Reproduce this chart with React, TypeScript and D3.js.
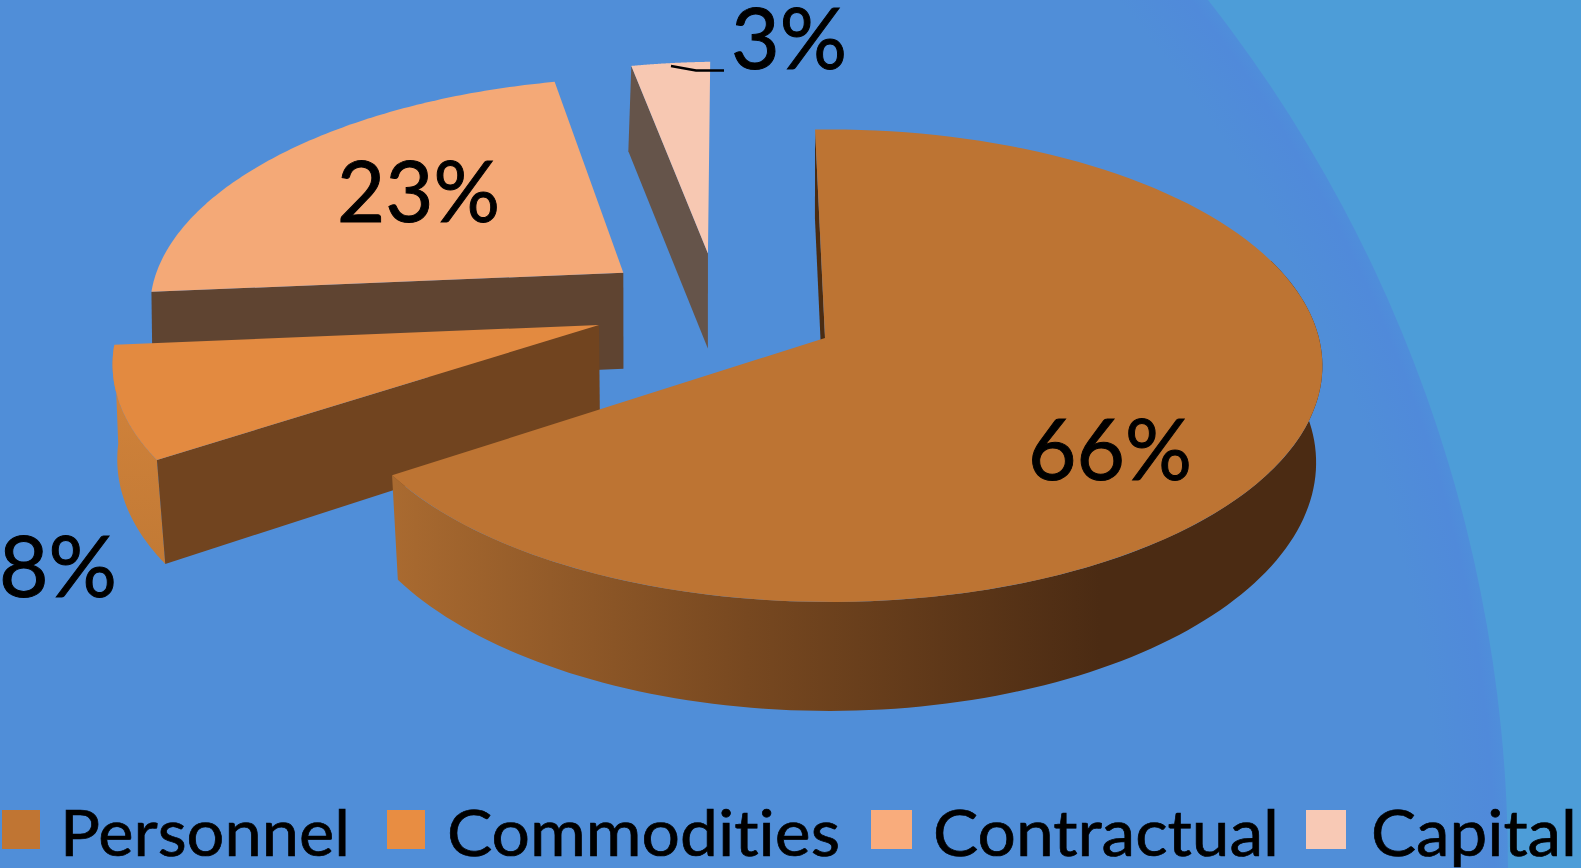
import React from "react";
import * as d3 from "d3";

// Budget shares by category, in percent
const categories = ["Personnel", "Commodities", "Contractual", "Capital"];
const shares = [66, 8, 23, 3];
const topColors = ["#bd7433", "#e38a40", "#f4a977", "#f7c8b2"];
const legendColors = ["#c07533", "#e88d42", "#f9ac7c", "#f8c9b5"];
const cutFaceColors = ["#4b2c12", "#71441f", "#5f4431", "#65544a"];
// How far each wedge is pulled out of the pie, in units of the disc radius
const shiftU = [0, -0.466, -0.427, -0.25];
const shiftV = [0, -0.0566, -0.2905, -0.38];

const WIDTH = 1581;
const HEIGHT = 868;
const FONT = "Lato, Carlito, sans-serif";

// Perspective view of the tilted disc
const centerX = 825;
const centerY = 338;
const radiusX = 490;
const radiusY = 233;
const perspectiveV = 0.1172;
const perspectiveU = 0.008;

const project = (u: number, v: number) => {
  const w = 1 - perspectiveV * v - perspectiveU * u;
  return [centerX + (radiusX * u) / w, centerY + (radiusY * v) / w];
};

// The underside of the disc, slightly narrower towards the viewer
const projectLower = (u: number, v: number) => {
  const [x, y] = project(u, v);
  return [
    centerX + (x - centerX) * (0.995 - 0.015 * v) - Math.max(u, 0) * 3,
    y + 99 + 10 * v,
  ];
};

const DEG = Math.PI / 180;
const pieLayout = d3
  .pie<number>()
  .sort(null)
  .startAngle(-1.3 * DEG)
  .endAngle(358.7 * DEG);
const wedges = pieLayout(shares);

const linePath = d3.line();

const discPoint = (i: number, angle: number) =>
  [shiftU[i] + Math.sin(angle), shiftV[i] - Math.cos(angle)] as [number, number];

const rim = (i: number, a0: number, a1: number) =>
  d3.range(0, 121).map((k) => discPoint(i, a0 + ((a1 - a0) * k) / 120));

const topFace = (i: number) => {
  const w = wedges[i];
  const pts = [[shiftU[i], shiftV[i]] as [number, number], ...rim(i, w.startAngle, w.endAngle)];
  return linePath(pts.map(([u, v]) => project(u, v) as [number, number])) + "Z";
};

const wall = (ring: [number, number][]) => {
  const upper = ring.map(([u, v]) => project(u, v) as [number, number]);
  const lower = ring.map(([u, v]) => projectLower(u, v) as [number, number]).reverse();
  return linePath([...upper, ...lower]) + "Z";
};

const radialWall = (i: number, angle: number) =>
  wall([[shiftU[i], shiftV[i]], discPoint(i, angle)]);

// Painter's order: furthest wedge first
const paintOrder = [3, 2, 1, 0];

const labelSpecs = [
  { x: 1028, y: 480, width: 164 },
  { x: -1, y: 597, width: 118 },
  { x: 337, y: 222, width: 163 },
  { x: 731, y: 69, width: 116 },
];

const legendSpecs = [
  { swatch: 2, swatchW: 38, text: 60, textW: 290 },
  { swatch: 387, swatchW: 38, text: 447, textW: 393 },
  { swatch: 871, swatchW: 41, text: 933, textW: 346 },
  { swatch: 1306, swatchW: 40, text: 1371, textW: 206 },
];

const textStyle = { fontVariantLigatures: "none" } as React.CSSProperties;

export default function App() {
  return (
    <svg
      width={WIDTH}
      height={HEIGHT}
      viewBox={`0 0 ${WIDTH} ${HEIGHT}`}
      style={{ position: "absolute", left: 0, top: 0, display: "block" }}
    >
      <defs>
        <radialGradient id="backdrop" gradientUnits="userSpaceOnUse" cx={102} cy={868} r={1406}>
          <stop offset="0.95" stopColor="#508ed8" />
          <stop offset="0.99" stopColor="#508ada" />
          <stop offset="1" stopColor="#4f8eda" />
        </radialGradient>
        <linearGradient id="personnelWall" gradientUnits="userSpaceOnUse" x1={395} x2={1100} y1={0} y2={0}>
          <stop offset="0" stopColor="#a96a30" />
          <stop offset="0.5" stopColor="#774820" />
          <stop offset="1" stopColor="#4b2b13" />
        </linearGradient>
        <linearGradient id="commoditiesWall" gradientUnits="userSpaceOnUse" x1={0} x2={0} y1={340} y2={560}>
          <stop offset="0" stopColor="#d4843c" />
          <stop offset="1" stopColor="#c27a35" />
        </linearGradient>
      </defs>

      <rect width={WIDTH} height={HEIGHT} fill="#4d9dd8" />
      <circle cx={102} cy={868} r={1406} fill="url(#backdrop)" />

      {paintOrder.map((i) => {
        const w = wedges[i];
        return (
          <g key={categories[i]}>
            {i === 0 && (
              <path d={wall(rim(0, 70 * DEG, w.endAngle))} fill="url(#personnelWall)" />
            )}
            {i === 1 && (
              <path d={wall(rim(1, w.startAngle, w.endAngle))} fill="url(#commoditiesWall)" />
            )}
            <path d={radialWall(i, w.startAngle)} fill={cutFaceColors[i]} />
            <path d={topFace(i)} fill={topColors[i]} />
          </g>
        );
      })}

      <polyline
        points="671,66 696,70.5 724,70.5"
        fill="none"
        stroke="#000"
        strokeWidth={2.5}
      />

      {shares.map((s, i) => (
        <text
          key={categories[i]}
          x={labelSpecs[i].x}
          y={labelSpecs[i].y}
          fontFamily={FONT}
          fontSize={86}
          fill="#000"
          stroke="#000"
          strokeWidth={1}
          style={textStyle}
          textLength={labelSpecs[i].width}
          lengthAdjust="spacingAndGlyphs"
        >
          {s}%
        </text>
      ))}

      {categories.map((c, i) => (
        <g key={c}>
          <rect x={legendSpecs[i].swatch} y={810} width={legendSpecs[i].swatchW} height={39} fill={legendColors[i]} />
          <text
            x={legendSpecs[i].text}
            y={856}
            fontFamily={FONT}
            fontSize={64}
            fill="#000"
            stroke="#000"
            strokeWidth={0.7}
            style={textStyle}
            textLength={legendSpecs[i].textW}
            lengthAdjust="spacingAndGlyphs"
          >
            {c}
          </text>
        </g>
      ))}
    </svg>
  );
}
